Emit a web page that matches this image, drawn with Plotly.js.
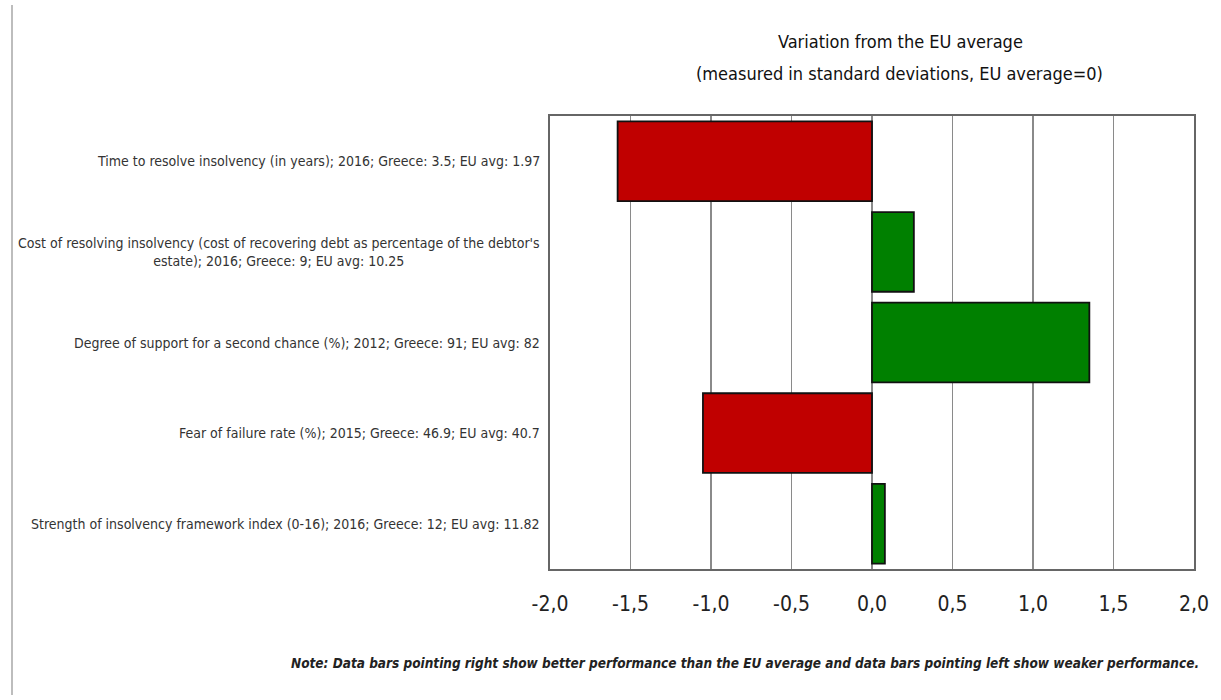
<!DOCTYPE html>
<html>
<head>
<meta charset="utf-8">
<script src="https://cdn.plot.ly/plotly-3.0.1.min.js"></script>
<style>
  html, body { margin: 0; padding: 0; background: #fff; }
  #chart { width: 1221px; height: 700px; }
</style>
</head>
<body>
<div id="chart"></div>
<script>
const categories = [
  "Time to resolve insolvency (in years); 2016; Greece: 3.5; EU avg: 1.97",
  "Cost of resolving insolvency (cost of recovering debt as percentage of the debtor's<br>estate); 2016; Greece: 9; EU avg: 10.25",
  "Degree of support for a second chance (%); 2012; Greece: 91; EU avg: 82",
  "Fear of failure rate (%); 2015; Greece: 46.9; EU avg: 40.7",
  "Strength of insolvency framework index (0-16); 2016; Greece: 12; EU avg: 11.82"
];
const values = [-1.58, 0.26, 1.35, -1.05, 0.08];
const tickValues = [-2, -1.5, -1, -0.5, 0, 0.5, 1, 1.5, 2];
const tickLabels = ["-2,0", "-1,5", "-1,0", "-0,5", "0,0", "0,5", "1,0", "1,5", "2,0"];

const titleLine1 = "Variation from the EU average";
const titleLine2 = "(measured in standard deviations, EU average=0)";
const noteText = "Note: Data bars pointing right show better performance than the EU average and data bars pointing left show weaker performance.";

const narrow = "'Liberation Sans Narrow', 'DejaVu Sans Condensed', Arial, sans-serif";

// plot box in pixels
const L = 550, R = 1194, T = 116, B = 569;
const W = R - L, H = B - T;
const px = x => (x - L) / W;
const py = y => (B - y) / H;

const colors = values.map(v => v < 0 ? '#C00000' : '#008000');
const ids = categories.map((c, i) => 'c' + i);

const trace = {
  type: 'bar',
  orientation: 'h',
  x: values,
  y: ids,
  marker: { color: colors, line: { color: '#111', width: 1.8 } },
  width: 0.88,
  hoverinfo: 'x'
};

const annotations = categories.map((c, i) => ({
  xref: 'paper', yref: 'y',
  x: px(542), y: ids[i],
  xanchor: 'right', yanchor: 'middle',
  align: 'center',
  text: c,
  showarrow: false,
  font: { family: narrow, size: 14, color: '#333' }
}));

annotations.push({
  xref: 'paper', yref: 'paper',
  x: px(900), y: py(41),
  xanchor: 'center', yanchor: 'middle',
  text: titleLine1, showarrow: false,
  font: { family: narrow, size: 18, color: '#111' }
});
annotations.push({
  xref: 'paper', yref: 'paper',
  x: px(899), y: py(74),
  xanchor: 'center', yanchor: 'middle',
  text: titleLine2, showarrow: false,
  font: { family: narrow, size: 18, color: '#111' }
});

annotations.push({
  xref: 'paper', yref: 'paper',
  x: px(1201), y: py(663),
  xanchor: 'right', yanchor: 'middle',
  text: '<b><i>' + noteText + '</i></b>',
  showarrow: false,
  font: { family: narrow, size: 13.5, color: '#222' }
});

const layout = {
  width: 1221, height: 700,
  margin: { l: L, r: 1221 - R, t: T, b: 700 - B },
  paper_bgcolor: '#fff',
  plot_bgcolor: '#fff',
  showlegend: false,
  xaxis: {
    range: [-2, 2],
    tickvals: tickValues,
    ticktext: tickLabels,
    showgrid: true,
    gridcolor: '#8a8a8a',
    gridwidth: 1.5,
    zeroline: false,
    showline: true,
    mirror: true,
    linecolor: '#666',
    linewidth: 2,
    ticks: '',
    ticklabelstandoff: 15,
    tickfont: { family: narrow, size: 21, color: '#222' },
    fixedrange: true
  },
  yaxis: {
    type: 'category',
    autorange: 'reversed',
    showticklabels: false,
    showgrid: false,
    zeroline: false,
    showline: true,
    mirror: true,
    linecolor: '#666',
    linewidth: 2,
    ticks: '',
    fixedrange: true
  },
  annotations: annotations,
  shapes: [{
    type: 'line', xref: 'paper', yref: 'paper',
    x0: px(12), x1: px(12), y0: py(695), y1: py(5),
    line: { color: '#bdbdbd', width: 2 }
  }]
};

Plotly.newPlot('chart', [trace], layout, { displayModeBar: false, staticPlot: true });
</script>
</body>
</html>
